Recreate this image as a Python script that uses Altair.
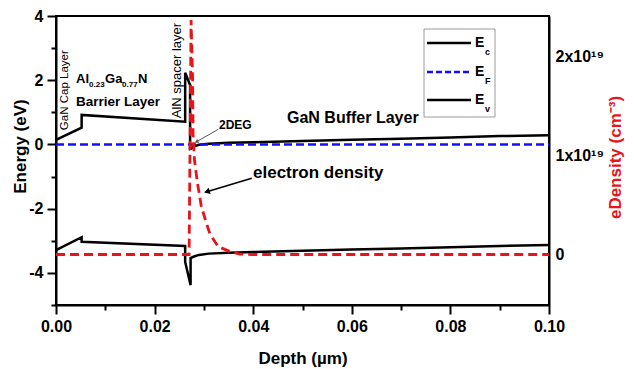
import altair as alt
import pandas as pd

# ---------------- data ----------------
# Conduction band edge Ec (eV) vs depth (µm)
ec_x = [0.0, 0.0052, 0.0052, 0.0262, 0.0262, 0.0272, 0.0272, 0.0275, 0.028, 0.029,
        0.031, 0.035, 0.04, 0.05, 0.06, 0.07, 0.08, 0.09, 0.1]
ec_y = [0.14, 0.52, 0.92, 0.71, 2.23, 1.85, -0.14, -0.12, -0.06, -0.01,
        0.02, 0.05, 0.07, 0.11, 0.15, 0.18, 0.22, 0.26, 0.29]
# Valence band edge Ev (eV)
ev_x = [0.0, 0.0052, 0.0052, 0.0262, 0.0262, 0.0273, 0.0273, 0.028, 0.029, 0.031,
        0.035, 0.04, 0.05, 0.06, 0.07, 0.08, 0.09, 0.1]
ev_y = [-3.29, -2.89, -3.03, -3.16, -3.66, -4.38, -3.54, -3.49, -3.44, -3.40,
        -3.37, -3.35, -3.31, -3.27, -3.24, -3.20, -3.16, -3.13]
# Fermi level EF (eV)
ef_x = [0.0, 0.1]
ef_y = [0.0, 0.0]
# Electron density (units of 1e19 cm^-3)
ne_x = [0.0, 0.0270, 0.0274, 0.0277, 0.0278, 0.0281, 0.0287, 0.0295, 0.0312,
        0.0329, 0.0353, 0.0373, 0.04, 0.1]
ne_y = [0.0, 0.0, 2.37, 1.79, 1.22, 0.95, 0.72, 0.48, 0.21,
        0.08, 0.03, 0.005, 0.0, 0.0]

# axis ticks
x_ticks = [0.0, 0.01, 0.02, 0.03, 0.04, 0.05, 0.06, 0.07, 0.08, 0.09, 0.1]
e_ticks = [-5, -4, -3, -2, -1, 0, 1, 2, 3, 4]
d_ticks = [0, 0.5, 1, 1.5, 2]

# annotation arrows (data coordinates: depth µm, energy eV)
arrow_2deg_x = [0.0329, 0.0285]
arrow_2deg_y = [0.47, 0.084]
arrow_ne_x = [0.0397, 0.0306]
arrow_ne_y = [-1.056, -1.473]

FONT = "Liberation Sans"
RED = "#e8141b"
BLUE = "#1010ff"
W, H = 493, 289

xscale = alt.Scale(domain=[0, 0.1], nice=False, zero=False)
escale = alt.Scale(domain=[-5, 4], nice=False, zero=False)
dscale = alt.Scale(domain=[-0.51, 2.41], nice=False, zero=False)

x_axis = alt.Axis(
    values=x_ticks, title="Depth (µm)", grid=False,
    labelExpr="round(datum.value*100) % 2 == 0 ? format(datum.value, '.2f') : ''",
    tickSize={"condition": {"test": "round(datum.value*100) % 2 == 0", "value": 9}, "value": 5},
    labelPadding=4, labelFlush=False, labelOverlap=False,
    titleY=53, titleBaseline="middle",
)
e_axis = alt.Axis(
    values=e_ticks, title="Energy (eV)", grid=False,
    labelExpr="datum.value % 2 == 0 ? '' + datum.value : ''",
    tickSize={"condition": {"test": "datum.value % 2 == 0", "value": 9}, "value": 5},
    labelPadding=4, labelFlush=False, labelOverlap=False,
    titleX=-36, titleY=130, titleAngle=270, titleAlign="center", titleBaseline="middle",
)
d_axis = alt.Axis(
    orient="right", values=d_ticks, title="eDensity (cm⁻³)", grid=False,
    labelExpr="datum.value == 0 ? '0' : datum.value == 1 ? '1x10¹⁹' : datum.value == 2 ? '2x10¹⁹' : ''",
    ticks=False, labelPadding=6, labelFlush=False, labelOverlap=False,
    titleColor=RED, titleX=66, titleY=141, titleAngle=270, titleAlign="center", titleBaseline="middle",
)

def X():
    return alt.X("x:Q", scale=xscale, axis=x_axis)

def Y():
    return alt.Y("y:Q", scale=escale, axis=e_axis)

def band_df(xs, ys):
    return pd.DataFrame({"x": xs, "y": ys, "i": list(range(len(xs)))})

ec = alt.Chart(band_df(ec_x, ec_y)).mark_line(color="black", strokeWidth=2.5).encode(
    x=X(), y=Y(), order="i:Q")
ev = alt.Chart(band_df(ev_x, ev_y)).mark_line(color="black", strokeWidth=2.5).encode(
    x=X(), y=Y(), order="i:Q")
ef = alt.Chart(band_df(ef_x, ef_y)).mark_line(color=BLUE, strokeWidth=2.5, strokeDash=[8, 4]).encode(
    x=X(), y=Y(), order="i:Q")

def dtext(s, x, y, size, weight="bold", angle=0, align="left", baseline="middle", dx=0, dy=0, color="black"):
    return alt.Chart(pd.DataFrame({"x": [x], "y": [y], "t": [s]})).mark_text(
        font=FONT, fontSize=size, fontWeight=weight, angle=angle, align=align,
        baseline=baseline, dx=dx, dy=dy, color=color,
    ).encode(x=X(), y=Y(), text="t:N")

def arrow(xs, ys, color, width, head_size, head_angle):
    d = band_df(xs, ys)
    line = alt.Chart(d).mark_line(color=color, strokeWidth=width).encode(
        x=X(), y=Y(), order="i:Q")
    head = alt.Chart(d.iloc[[1]]).mark_point(
        shape="triangle-up", filled=True, color=color, size=head_size, angle=head_angle, opacity=1
    ).encode(x=X(), y=Y())
    return line + head

one = pd.DataFrame({"a": [0]})

def ptext(s, px, py, size, weight="bold", color="black"):
    return alt.Chart(one).mark_text(
        font=FONT, fontSize=size, fontWeight=weight, align="left", baseline="alphabetic", color=color
    ).encode(x=alt.value(px), y=alt.value(py), text=alt.value(s))

def prule(x1, x2, y, color, dash=None):
    kw = dict(color=color, strokeWidth=2.5)
    if dash:
        kw["strokeDash"] = dash
    return alt.Chart(one).mark_rule(**kw).encode(x=alt.value(x1), x2=alt.value(x2), y=alt.value(y))

legend_box = alt.Chart(one).mark_rect(fill="white", stroke="#9a9a9a", strokeWidth=1).encode(
    x=alt.value(368), x2=alt.value(439), y=alt.value(13), y2=alt.value(101)
)
legend = alt.layer(
    legend_box,
    prule(371, 415, 27, "black"),
    prule(371, 415, 56, BLUE, [6, 3]),
    prule(371, 415, 84, "black"),
    ptext("E", 419, 31, 14), ptext("c", 429, 39, 9),
    ptext("E", 419, 60, 14), ptext("F", 429, 68, 9),
    ptext("E", 419, 88, 14), ptext("v", 429, 96, 9),
)

annotations = alt.layer(
    dtext("GaN Cap Layer", 0.00183, 1.69, 11.5, weight="normal", angle=270, align="center"),
    dtext("AlN spacer layer", 0.02454, 2.30, 13, weight="normal", angle=270, align="center"),
    dtext("Al", 0.00406, 1.91, 13, baseline="alphabetic"),
    dtext("0.23", 0.00406, 1.91, 8, baseline="alphabetic", dx=13, dy=4),
    dtext("Ga", 0.00406, 1.91, 13, baseline="alphabetic", dx=29),
    dtext("0.77", 0.00406, 1.91, 8, baseline="alphabetic", dx=46, dy=4),
    dtext("N", 0.00406, 1.91, 13, baseline="alphabetic", dx=62),
    dtext("Barrier Layer", 0.00406, 1.20, 13.5, baseline="alphabetic"),
    dtext("2DEG", 0.03306, 0.60, 12),
    arrow(arrow_2deg_x, arrow_2deg_y, "#555555", 1, 18, 240),
    dtext("GaN Buffer Layer", 0.04686, 0.82, 16),
    dtext("electron density", 0.03996, -0.89, 17),
    arrow(arrow_ne_x, arrow_ne_y, "black", 1.6, 45, 253),
)

energy = alt.layer(ec, ev, ef, annotations, legend)

density = alt.Chart(band_df(ne_x, ne_y)).mark_line(color=RED, strokeWidth=2.8, strokeDash=[9, 5]).encode(
    x=X(),
    y=alt.Y("y:Q", scale=dscale, axis=d_axis),
    order="i:Q",
)

chart = alt.layer(energy, density).resolve_scale(y="independent").properties(
    width=W, height=H,
    autosize=alt.AutoSizeParams(type="none"),
    padding={"left": 56, "top": 16, "right": 85, "bottom": 64},
    background="white",
).configure_axis(
    labelFont=FONT, titleFont=FONT, labelFontSize=16, labelFontWeight="bold",
    titleFontSize=17, titleFontWeight="bold", labelColor="black",
    domainColor="black", domainWidth=2, tickColor="black", tickWidth=2,
).configure_view(stroke="black", strokeWidth=2)

chart.save("out.html", embed_options={"renderer": "svg", "actions": False})
